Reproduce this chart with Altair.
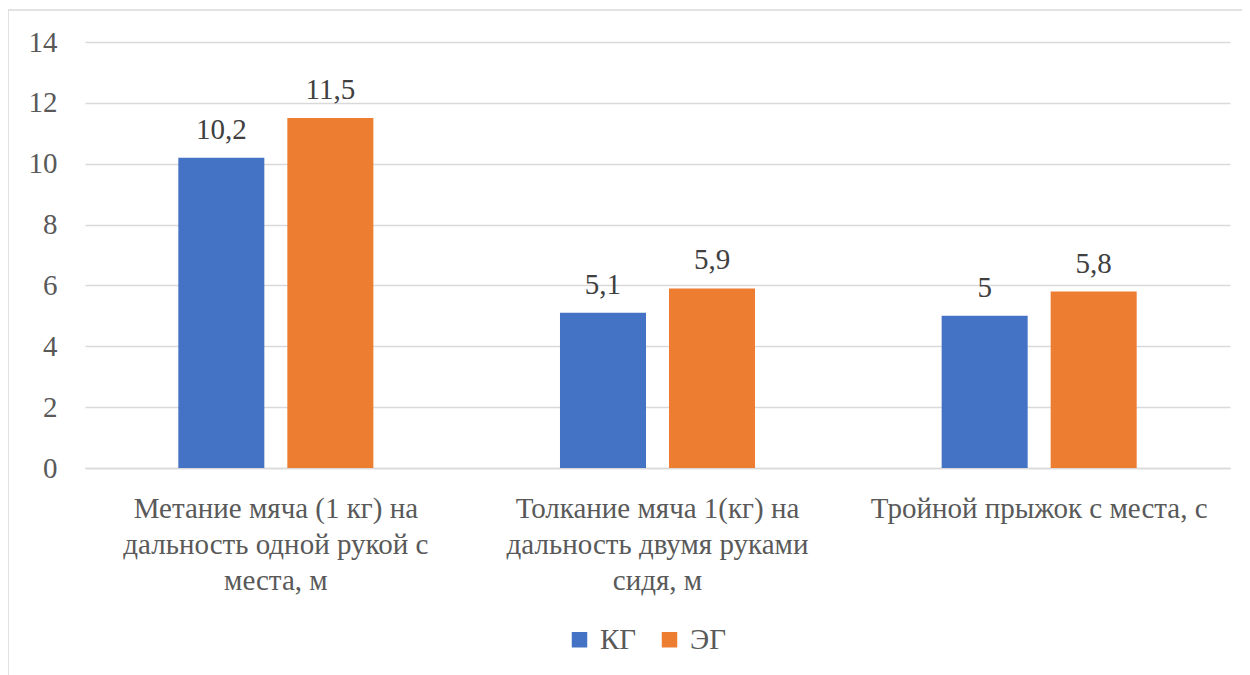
import altair as alt
import pandas as pd

categories = [
    "Метание мяча (1 кг) на\nдальность одной рукой с\nместа, м",
    "Толкание мяча 1(кг) на\nдальность двумя руками\nсидя, м",
    "Тройной прыжок с места, с",
]
groups = ["КГ", "ЭГ"]
kg_values = [10.2, 5.1, 5.0]
eg_values = [11.5, 5.9, 5.8]
colors = ["#4472C4", "#ED7D31"]

rows = []
for c, k, e in zip(categories, kg_values, eg_values):
    rows.append({"cat": c, "grp": groups[0], "val": k})
    rows.append({"cat": c, "grp": groups[1], "val": e})
df = pd.DataFrame(rows)

FONT = "Liberation Serif"
TXT = "#595959"

base = alt.Chart(df).encode(
    x=alt.X("cat:N", sort=categories, title=None,
            scale=alt.Scale(paddingInner=0.489, paddingOuter=0.2445),
            axis=alt.Axis(labelAngle=0, labelExpr="split(datum.label, '\\n')",
                          labelFontSize=29, labelFont=FONT, labelColor=TXT,
                          labelLineHeight=36, labelPadding=26, labelBaseline="top",
                          ticks=False, domain=True, domainColor="#D9D9D9",
                          domainWidth=1.5, labelLimit=400)),
    xOffset=alt.XOffset("grp:N", sort=groups,
                        scale=alt.Scale(paddingInner=0.211, paddingOuter=0)),
)

bars = base.mark_bar().encode(
    y=alt.Y("val:Q", title=None,
            scale=alt.Scale(domain=[0, 14], nice=False),
            axis=alt.Axis(values=[0, 2, 4, 6, 8, 10, 12, 14], ticks=False, domain=False,
                          gridColor="#D9D9D9", gridWidth=1.5,
                          labelFontSize=29, labelFont=FONT, labelColor=TXT,
                          labelPadding=28)),
    color=alt.Color("grp:N", sort=groups,
                    scale=alt.Scale(domain=groups, range=colors),
                    legend=alt.Legend(title=None, orient="none", direction="horizontal",
                                      legendX=480, legendY=583,
                                      symbolType="square", symbolSize=240,
                                      symbolStrokeWidth=0,
                                      labelFontSize=29, labelFont=FONT, labelColor=TXT,
                                      columnPadding=18, labelOffset=6)),
)

labels = base.mark_text(baseline="alphabetic", dy=-19, fontSize=29, font=FONT,
                        color="#404040").encode(
    y=alt.Y("val:Q"),
    text=alt.Text("lbl:N"),
).transform_calculate(lbl="replace(toString(datum.val), '.', ',')")

frame_left = alt.Chart(pd.DataFrame({"a": [0]})).mark_rule(color="#D9D9D9", strokeWidth=1.5).encode(
    x=alt.value(-77), y=alt.value(-32), y2=alt.value(720))
frame_top = alt.Chart(pd.DataFrame({"a": [0]})).mark_rule(color="#D9D9D9", strokeWidth=1.5).encode(
    x=alt.value(-77), x2=alt.value(1160), y=alt.value(-32))

chart = alt.layer(frame_left, frame_top, bars, labels).properties(
    width=1145, height=426,
    background="white",
    autosize=alt.AutoSizeParams(type="none"),
    padding={"left": 77, "top": 34, "right": 12, "bottom": 220},
).configure_view(stroke=None).configure_axis(labelFont=FONT).configure_legend(
    labelFont=FONT).configure_text(font=FONT)

chart.save("out.html", embed_options={"renderer": "svg", "actions": False})
